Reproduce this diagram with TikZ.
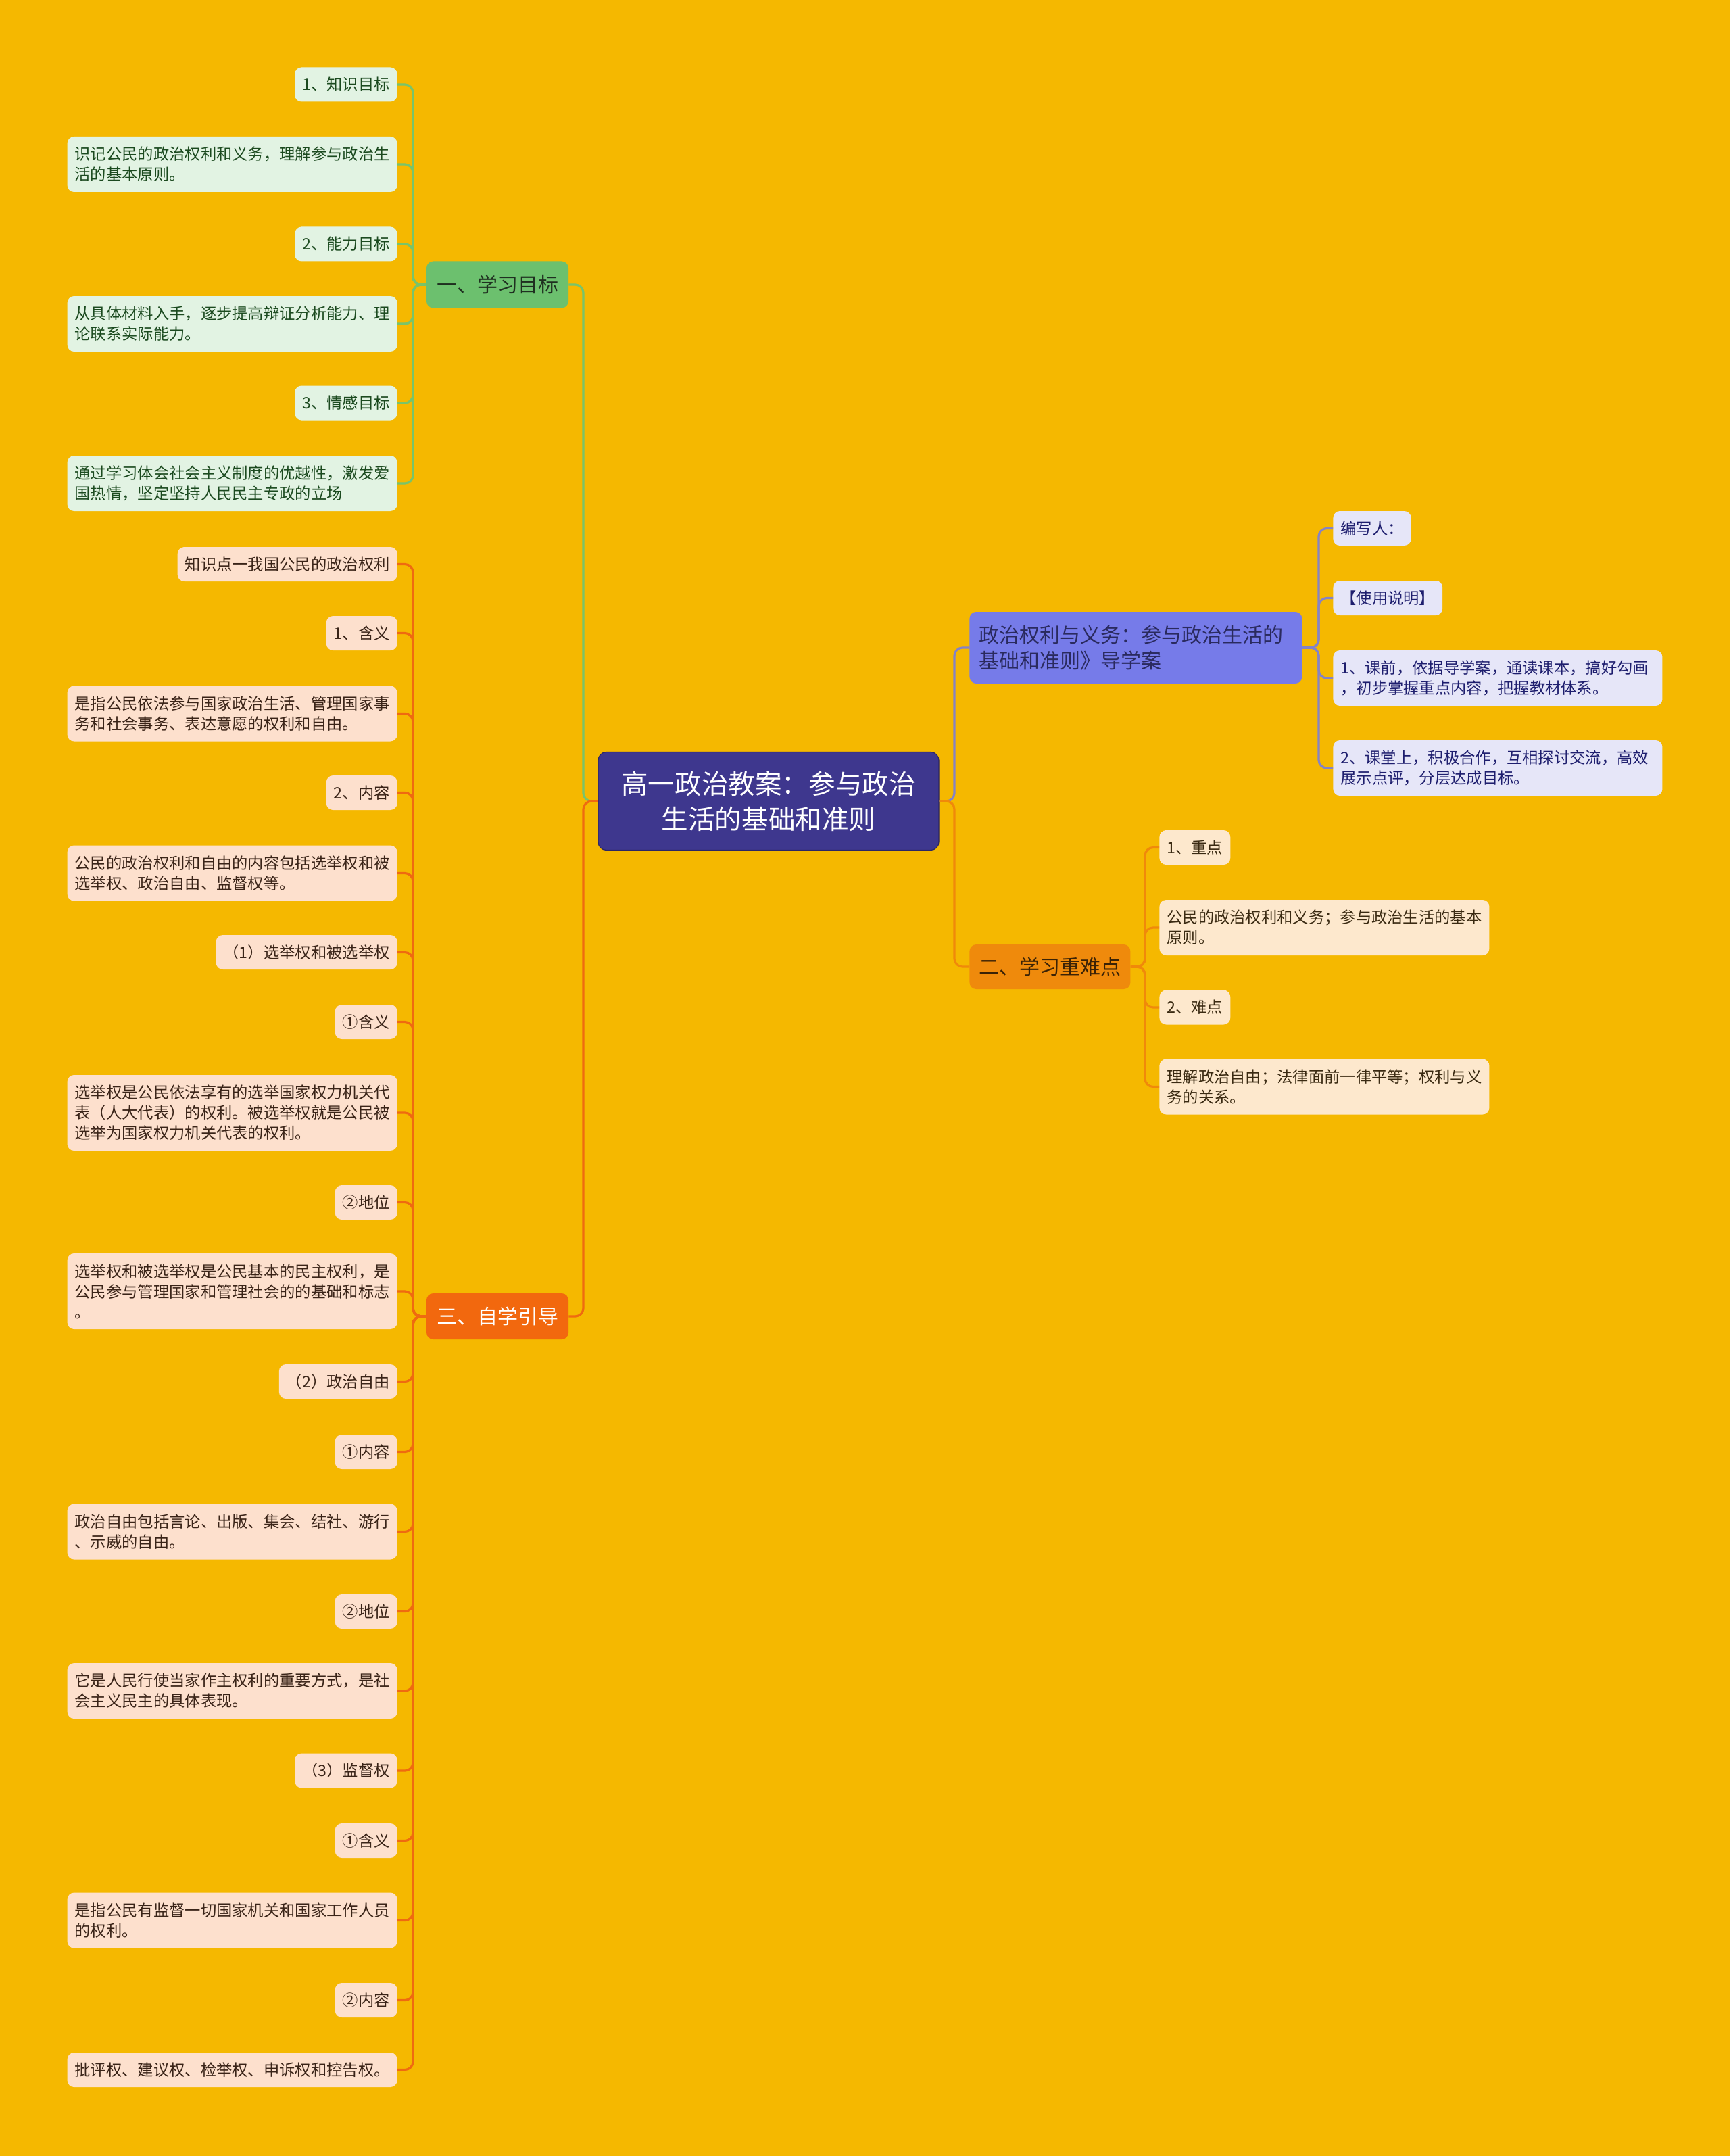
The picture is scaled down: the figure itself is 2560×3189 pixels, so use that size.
\documentclass[tikz,border=0pt]{standalone}
\usepackage{fontspec}
\setmainfont{Noto Sans CJK SC}
\definecolor{bg}{HTML}{F5B800}
\definecolor{gfill}{HTML}{E2F3E3}
\definecolor{gtext}{HTML}{1B4A1F}
\definecolor{bonefill}{HTML}{6CC06E}
\definecolor{bonetext}{HTML}{1F2F20}
\definecolor{gline}{HTML}{78C46A}
\definecolor{ofill}{HTML}{FDE0CD}
\definecolor{otext}{HTML}{3A2418}
\definecolor{bthreefill}{HTML}{F2680E}
\definecolor{oline}{HTML}{EF6A10}
\definecolor{pfill}{HTML}{E6E6F8}
\definecolor{ptext}{HTML}{1E1E6E}
\definecolor{btwofill}{HTML}{767BE9}
\definecolor{btwotext}{HTML}{2A2A5E}
\definecolor{pline}{HTML}{8583C6}
\definecolor{cfill}{HTML}{FDE8CD}
\definecolor{ctext}{HTML}{3A2A12}
\definecolor{bfourfill}{HTML}{EF8A0C}
\definecolor{bfourtext}{HTML}{3A2206}
\definecolor{cline}{HTML}{F0890A}
\definecolor{rootfill}{HTML}{3E378E}
\definecolor{rootdraw}{HTML}{2B2666}
\begin{document}
\begin{tikzpicture}[x=0.5pt,y=-0.5pt,
  leafbase/.style={rounded corners=5pt, inner xsep=5.5pt, inner ysep=0pt, align=left,
    font=\fontsize{11.65pt}{15pt}\selectfont},
  Lone/.style={minimum height=25.5pt},
  Ltwo/.style={minimum height=41pt},
  Lthree/.style={minimum height=56pt},
  gleaf/.style={leafbase, fill=gfill, text=gtext, anchor=east},
  oleaf/.style={leafbase, fill=ofill, text=otext, anchor=east},
  pleaf/.style={leafbase, fill=pfill, text=ptext, anchor=west},
  cleaf/.style={leafbase, fill=cfill, text=ctext, anchor=west},
  branchbox/.style={rounded corners=5pt, inner sep=0pt, align=center,
    font=\fontsize{15pt}{19pt}\selectfont},
  rootbox/.style={rounded corners=6pt, inner sep=0pt, align=center, fill=rootfill,
    draw=rootdraw, line width=0.6pt, text=white, minimum width=252pt, minimum height=72.5pt,
    font=\fontsize{19.8pt}{26pt}\selectfont},
  conn/.style={line width=1.6pt, rounded corners=6pt},
  gl/.style={conn, draw=gline},
  ol/.style={conn, draw=oline},
  pl/.style={conn, draw=pline},
  cl/.style={conn, draw=cline}
]
\fill[bg] (0,0) rectangle (2560,3189);
\useasboundingbox (0,0) rectangle (2560,3189);

% root
\node[rootbox] (r) at (1137,1185) {高一政治教案：参与政治\\生活的基础和准则};

% branches
\node[branchbox, fill=bonefill, text=bonetext, minimum width=105pt, minimum height=34.5pt] (b1) at (736,421) {一、学习目标};
\node[branchbox, fill=bthreefill, text=white, minimum width=105pt, minimum height=34pt] (b3) at (736,1947) {三、自学引导};
\node[branchbox, fill=btwofill, text=btwotext, anchor=west, minimum width=246pt, minimum height=53pt,
  text width=232pt, align=left] (b2) at (1434,958) {政治权利与义务：参与政治生活的\\基础和准则》导学案};
\node[branchbox, fill=bfourfill, text=bfourtext, anchor=west, minimum width=119pt, minimum height=33pt] (b4) at (1434,1430) {二、学习重难点};

% green leaves
\node[gleaf,Lone] (g1) at (588,125) {1、知识目标};
\node[gleaf,Ltwo] (g2) at (588,243) {识记公民的政治权利和义务，理解参与政治生\\活的基本原则。};
\node[gleaf,Lone] (g3) at (588,361) {2、能力目标};
\node[gleaf,Ltwo] (g4) at (588,479) {从具体材料入手，逐步提高辩证分析能力、理\\论联系实际能力。};
\node[gleaf,Lone] (g5) at (588,596) {3、情感目标};
\node[gleaf,Ltwo] (g6) at (588,715) {通过学习体会社会主义制度的优越性，激发爱\\国热情，坚定坚持人民民主专政的立场};

% orange leaves
\node[oleaf,Lone] (o1) at (588,834.5) {知识点一我国公民的政治权利};
\node[oleaf,Lone] (o2) at (588,936.5) {1、含义};
\node[oleaf,Ltwo] (o3) at (588,1055.5) {是指公民依法参与国家政治生活、管理国家事\\务和社会事务、表达意愿的权利和自由。};
\node[oleaf,Lone] (o4) at (588,1172.5) {2、内容};
\node[oleaf,Ltwo] (o5) at (588,1291.5) {公民的政治权利和自由的内容包括选举权和被\\选举权、政治自由、监督权等。};
\node[oleaf,Lone] (o6) at (588,1408.5) {（1）选举权和被选举权};
\node[oleaf,Lone] (o7) at (588,1511.5) {①含义};
\node[oleaf,Lthree] (o8) at (588,1646) {选举权是公民依法享有的选举国家权力机关代\\表（人大代表）的权利。被选举权就是公民被\\选举为国家权力机关代表的权利。};
\node[oleaf,Lone] (o9) at (588,1778.5) {②地位};
\node[oleaf,Lthree] (o10) at (588,1910) {选举权和被选举权是公民基本的民主权利，是\\公民参与管理国家和管理社会的的基础和标志\\。};
\node[oleaf,Lone] (o11) at (588,2043.5) {（2）政治自由};
\node[oleaf,Lone] (o12) at (588,2147.5) {①内容};
\node[oleaf,Ltwo] (o13) at (588,2265.5) {政治自由包括言论、出版、集会、结社、游行\\、示威的自由。};
\node[oleaf,Lone] (o14) at (588,2383.5) {②地位};
\node[oleaf,Ltwo] (o15) at (588,2501) {它是人民行使当家作主权利的重要方式，是社\\会主义民主的具体表现。};
\node[oleaf,Lone] (o16) at (588,2619) {（3）监督权};
\node[oleaf,Lone] (o17) at (588,2722.5) {①含义};
\node[oleaf,Ltwo] (o18) at (588,2840.5) {是指公民有监督一切国家机关和国家工作人员\\的权利。};
\node[oleaf,Lone] (o19) at (588,2958.5) {②内容};
\node[oleaf,Lone] (o20) at (588,3061.5) {批评权、建议权、检举权、申诉权和控告权。};

% purple leaves
\node[pleaf,Lone] (p1) at (1972,781.5) {编写人：};
\node[pleaf,Lone] (p2) at (1972,884.5) {【使用说明】};
\node[pleaf,Ltwo,text width=232.5pt] (p3) at (1972,1003) {1、课前，依据导学案，通读课本，搞好勾画\\，初步掌握重点内容，把握教材体系。};
\node[pleaf,Ltwo,text width=232.5pt] (p4) at (1972,1136) {2、课堂上，积极合作，互相探讨交流，高效\\展示点评，分层达成目标。};

% cream leaves
\node[cleaf,Lone] (c1) at (1715,1253.5) {1、重点};
\node[cleaf,Ltwo] (c2) at (1715,1372) {公民的政治权利和义务；参与政治生活的基本\\原则。};
\node[cleaf,Lone] (c3) at (1715,1490) {2、难点};
\node[cleaf,Ltwo] (c4) at (1715,1607.5) {理解政治自由；法律面前一律平等；权利与义\\务的关系。};

% connector junctions
\coordinate (rl) at (863,1185);
\coordinate (rr) at (1412,1185);
\coordinate (gb) at (611,421);
\coordinate (ob) at (611,1947);
\coordinate (pb) at (1951,958);
\coordinate (cb) at (1694,1430);

% root connectors
\draw[gl] (r.west) -- (rl) |- (b1.east);
\draw[ol] (r.west) -- (rl) |- (b3.east);
\draw[pl] (r.east) -- (rr) |- (b2.west);
\draw[cl] (r.east) -- (rr) |- (b4.west);

% branch connectors
\foreach \i in {1,...,6} { \draw[gl] (b1.west) -- (gb) |- (g\i.east); }
\foreach \i in {1,...,20} { \draw[ol] (b3.west) -- (ob) |- (o\i.east); }
\foreach \i in {1,...,4} { \draw[pl] (b2.east) -- (pb) |- (p\i.west); }
\foreach \i in {1,...,4} { \draw[cl] (b4.east) -- (cb) |- (c\i.west); }
\end{tikzpicture}
\end{document}
